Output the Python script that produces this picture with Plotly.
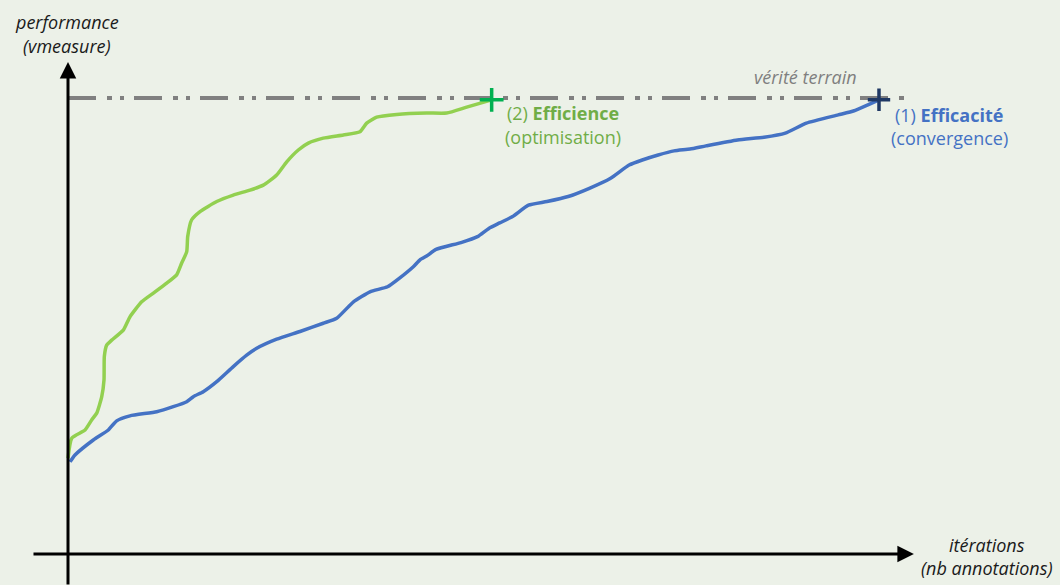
import plotly.graph_objects as go

# ---- data (x: iterations scaled so blue end = 100, y: performance, ground truth = 1) ----
green_x = [0, 0.46, 2.10, 2.92, 3.54, 4.16, 4.44, 4.48, 4.77, 5.39, 6.82, 7.64, 9.08, 10.52,
           12.17, 13.40, 14.02, 14.64, 14.76, 15.25, 16.28, 18.34, 20.38, 22.44, 24.08, 25.73,
           26.97, 28.40, 29.63, 31.48, 33.95, 36.00, 36.83, 38.06, 40.53, 44.23, 46.69, 49.16, 52.24]
green_y = [0.210, 0.254, 0.272, 0.294, 0.309, 0.345, 0.382, 0.433, 0.458, 0.469, 0.491, 0.520,
           0.553, 0.572, 0.594, 0.612, 0.638, 0.663, 0.696, 0.733, 0.751, 0.773, 0.787, 0.798,
           0.809, 0.831, 0.860, 0.886, 0.901, 0.912, 0.919, 0.926, 0.945, 0.958, 0.964, 0.967,
           0.967, 0.980, 0.996]

blue_x = [0.25, 0.86, 3.12, 4.97, 6.00, 7.64, 10.94, 12.98, 14.64, 15.45, 16.68, 18.34, 20.38,
          22.03, 23.27, 25.73, 28.61, 31.48, 33.13, 35.20, 37.24, 39.40, 40.88, 42.58, 43.40,
          44.27, 45.38, 48.46, 50.49, 51.89, 53.23, 54.82, 56.78, 59.06, 61.68, 64.29, 66.91,
          69.19, 70.81, 72.77, 74.74, 76.70, 78.66, 82.56, 85.83, 88.45, 91.05, 94.97, 96.93, 100.0]
blue_y = [0.202, 0.217, 0.250, 0.272, 0.292, 0.303, 0.312, 0.323, 0.334, 0.345, 0.356, 0.378,
          0.411, 0.436, 0.451, 0.471, 0.488, 0.506, 0.517, 0.553, 0.575, 0.586, 0.605, 0.630,
          0.645, 0.654, 0.668, 0.683, 0.696, 0.714, 0.726, 0.740, 0.765, 0.773, 0.784, 0.802,
          0.824, 0.853, 0.864, 0.875, 0.884, 0.888, 0.895, 0.908, 0.914, 0.923, 0.945, 0.963,
          0.972, 0.996]

truth_x = [0, 104.0]
truth_y = [1.0, 1.0]

end_green = (52.24, 0.996)
end_blue = (100.0, 0.996)

BG = "#ECF1E8"
FONT = "Open Sans"
FS = 18

fig = go.Figure()
fig.add_trace(go.Scatter(x=truth_x, y=truth_y, mode="lines",
                         line=dict(color="#808080", width=4, dash="28px,11px,5px,8px,4px,10px"),
                         hoverinfo="skip"))
fig.add_trace(go.Scatter(x=green_x, y=green_y, mode="lines",
                         line=dict(color="#92D050", width=3.5, shape="spline", smoothing=0.5),
                         hoverinfo="skip"))
fig.add_trace(go.Scatter(x=blue_x, y=blue_y, mode="lines",
                         line=dict(color="#4472C4", width=3.5, shape="spline", smoothing=0.5),
                         hoverinfo="skip"))
fig.add_trace(go.Scatter(x=[end_green[0]], y=[end_green[1]], mode="markers",
                         marker=dict(symbol="cross-thin", size=17,
                                     line=dict(color="#00B050", width=3.5)), hoverinfo="skip"))
fig.add_trace(go.Scatter(x=[end_blue[0]], y=[end_blue[1]], mode="markers",
                         marker=dict(symbol="cross-thin", size=16,
                                     line=dict(color="#1F3864", width=3.5)), hoverinfo="skip"))

W, H = 1060, 585


def px(xp):
    return xp / W


def py(yp):
    return 1 - yp / H


def label(xp, yp, text, color):
    return dict(x=px(xp), y=py(yp), xref="paper", yref="paper", showarrow=False,
                xanchor="center", yanchor="middle", text=text,
                font=dict(family=FONT, size=FS, color=color))


annotations = [
    # axes arrows
    dict(x=0, y=1.079, ax=0, ay=-0.07, xref="x", yref="y", axref="x", ayref="y",
         showarrow=True, arrowhead=2, arrowsize=1.1, arrowwidth=3, arrowcolor="black", text=""),
    dict(x=104.3, y=0, ax=-4.44, ay=0, xref="x", yref="y", axref="x", ayref="y",
         showarrow=True, arrowhead=2, arrowsize=1.1, arrowwidth=3, arrowcolor="black", text=""),
    # axis labels
    label(67, 22, "<i>performance</i>", "#1a1a1a"),
    label(67, 46, "<i>(vmeasure)</i>", "#1a1a1a"),
    label(987, 545, "<i>itérations</i>", "#1a1a1a"),
    label(987, 568, "<i>(nb annotations)</i>", "#1a1a1a"),
    label(805, 77, "<i>vérité terrain</i>", "#7F7F7F"),
    # series labels
    label(563, 113, "(2) <b>Efficience</b>", "#70AD47"),
    label(563, 137, "(optimisation)", "#70AD47"),
    label(949, 115, "(1) <b>Efficacité</b>", "#4472C4"),
    label(949, 138, "(convergence)", "#4472C4"),
]

fig.update_layout(
    width=W, height=H,
    margin=dict(l=0, r=0, t=0, b=0),
    paper_bgcolor=BG, plot_bgcolor=BG,
    showlegend=False,
    xaxis=dict(range=[-8.385, 122.32], visible=False, fixedrange=True),
    yaxis=dict(range=[-0.068, 1.2149], visible=False, fixedrange=True),
    annotations=annotations,
)

fig.write_html("out.html", config={"displayModeBar": False},
               post_script="document.body.style.margin='0';document.body.style.overflow='hidden';")
